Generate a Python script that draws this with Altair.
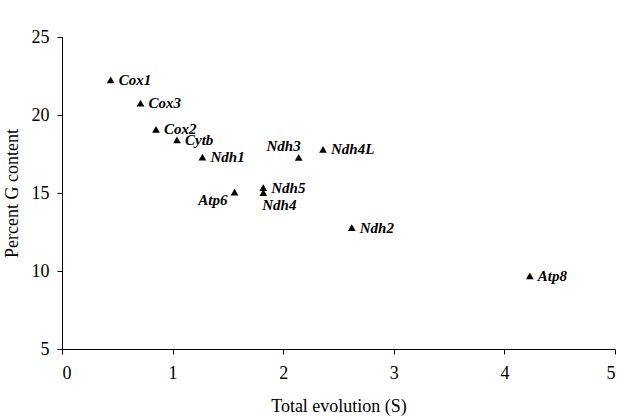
import altair as alt
import pandas as pd

genes = ["Cox1", "Cox3", "Cox2", "Cytb", "Ndh1", "Ndh3", "Ndh4L", "Atp6", "Ndh5", "Ndh4", "Ndh2", "Atp8"]
total_evolution = [0.44, 0.71, 0.85, 1.04, 1.27, 2.14, 2.36, 1.56, 1.82, 1.82, 2.62, 4.23]
percent_g = [22.25, 20.76, 19.08, 18.40, 17.30, 17.28, 17.80, 15.05, 15.35, 15.03, 12.78, 9.69]

# label placement relative to the marker
placement = {
    "Ndh3": "above",
    "Atp6": "leftbelow",
    "Ndh4": "below",
}

df = pd.DataFrame({"gene": genes, "S": total_evolution, "G": percent_g})
df["place"] = [placement.get(g, "right") for g in genes]

FONT = "Liberation Serif"

x = alt.X("S:Q", title="Total evolution (S)",
          scale=alt.Scale(domain=[0, 5], nice=False),
          axis=alt.Axis(values=[0, 1, 2, 3, 4, 5], format="d", grid=False,
                        tickSize=5, labelPadding=10, titlePadding=15,
                        labelFont=FONT, titleFont=FONT, labelFontSize=18,
                        titleFontSize=18, titleFontWeight="normal"))
y = alt.Y("G:Q", title="Percent G content",
          scale=alt.Scale(domain=[5, 25], nice=False, zero=False),
          axis=alt.Axis(values=[5, 10, 15, 20, 25], grid=False,
                        tickSize=5, labelPadding=8, titlePadding=10,
                        labelFont=FONT, titleFont=FONT, labelFontSize=18,
                        titleFontSize=18, titleFontWeight="normal"))

base = alt.Chart(df)

pts = base.mark_point(shape="triangle-up", filled=True, color="black",
                      size=60, opacity=1).encode(x=x, y=y)

common = dict(font=FONT, fontSize=15, fontStyle="italic", fontWeight="bold",
              color="black")

right = base.transform_filter(alt.datum.place == "right").mark_text(
    align="left", baseline="middle", dx=8, **common).encode(x=x, y=y, text="gene:N")
above = base.transform_filter(alt.datum.place == "above").mark_text(
    align="right", baseline="bottom", dx=2, dy=-3, **common).encode(x=x, y=y, text="gene:N")
leftbelow = base.transform_filter(alt.datum.place == "leftbelow").mark_text(
    align="right", baseline="middle", dx=-7, dy=8, **common).encode(x=x, y=y, text="gene:N")
below = base.transform_filter(alt.datum.place == "below").mark_text(
    align="left", baseline="top", dx=-1, dy=5, **common).encode(x=x, y=y, text="gene:N")

chart = alt.layer(pts, right, above, leftbelow, below).properties(
    width=553, height=312,
    background="white",
    autosize=alt.AutoSizeParams(type="none"),
    padding={"left": 62, "top": 37, "right": 7, "bottom": 71},
).configure_view(stroke=None).configure_axis(
    domainColor="black", tickColor="black", labelColor="black", titleColor="black",
    domainWidth=1, tickWidth=1,
)

chart.save("out.html", embed_options={"renderer": "svg", "actions": False})
